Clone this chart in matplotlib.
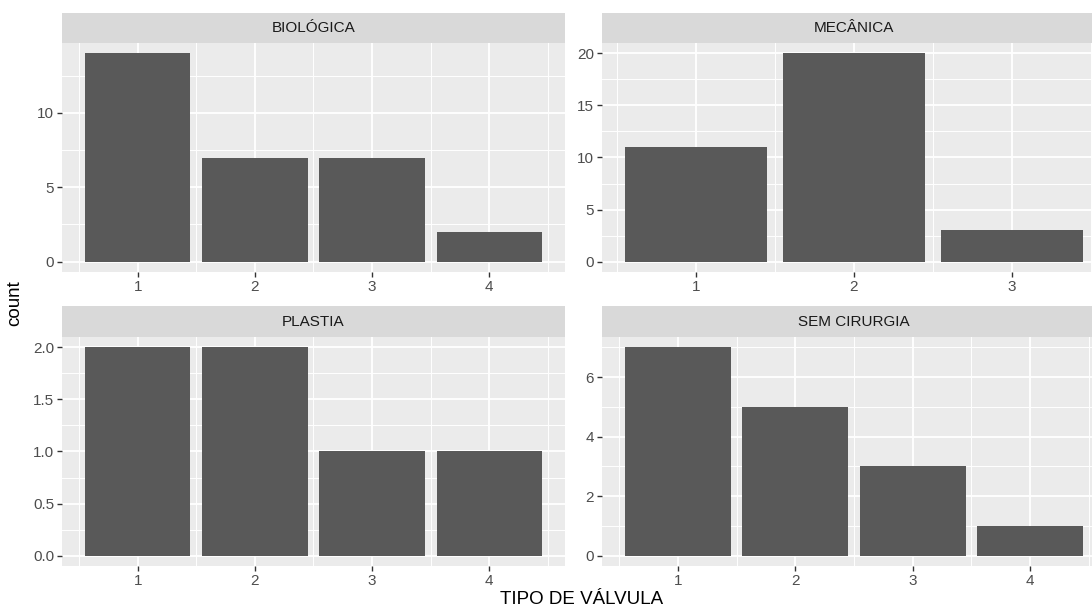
import numpy as np
import matplotlib
matplotlib.use("Agg")
import matplotlib.pyplot as plt
from matplotlib.ticker import FixedLocator

plt.rcParams['font.family'] = ['Liberation Sans', 'DejaVu Sans']

# counts per valve type, one facet per group
facet_names = ["BIOLÓGICA", "MECÂNICA", "PLASTIA", "SEM CIRURGIA"]
biologica_tipo = [1, 2, 3, 4]
biologica_count = [14, 7, 7, 2]
mecanica_tipo = [1, 2, 3]
mecanica_count = [11, 20, 3]
plastia_tipo = [1, 2, 3, 4]
plastia_count = [2, 2, 1, 1]
sem_cirurgia_tipo = [1, 2, 3, 4]
sem_cirurgia_count = [7, 5, 3, 1]

facets = [
    (biologica_tipo, biologica_count, [0, 5, 10]),
    (mecanica_tipo, mecanica_count, [0, 5, 10, 15, 20]),
    (plastia_tipo, plastia_count, [0, 0.5, 1.0, 1.5, 2.0]),
    (sem_cirurgia_tipo, sem_cirurgia_count, [0, 2, 4, 6]),
]
ytick_fmt = [str, str, lambda v: f"{v:.1f}", str]

W, H = 1092, 615
fig = plt.figure(figsize=(W / 100, H / 100), dpi=100)

# panel boxes in pixels: left, right, strip top, panel top, panel bottom
# (the right column runs past the canvas edge)
cols = [(62, 565), (602, 1106)]
rows = [(13, 43, 272), (306, 337, 566)]

bg = "#EBEBEB"
bar_col = "#595959"
tick_col = "#4D4D4D"

for i, (xs, ys, yticks) in enumerate(facets):
    r, c = divmod(i, 2)
    x0, x1 = cols[c]
    st, pt, pb = rows[r]
    ax = fig.add_axes([x0 / W, 1 - pb / H, (x1 - x0) / W, (pb - pt) / H])
    sax = fig.add_axes([x0 / W, 1 - pt / H, (x1 - x0) / W, (pt - st) / H])

    ax.set_facecolor(bg)
    ax.bar(xs, ys, width=0.9, color=bar_col, zorder=3)

    # ggplot-style continuous scale expansion (5%)
    lo, hi = min(xs) - 0.45, max(xs) + 0.45
    pad = (hi - lo) * 0.05
    ax.set_xlim(lo - pad, hi + pad)
    ymax = max(ys)
    ax.set_ylim(-ymax * 0.05, ymax * 1.05)

    ax.xaxis.set_major_locator(FixedLocator(xs))
    ax.set_xticklabels([str(v) for v in xs])
    xminor = [v - 0.5 for v in xs] + [xs[-1] + 0.5]
    ax.xaxis.set_minor_locator(FixedLocator(xminor))

    step = yticks[1] - yticks[0]
    ax.yaxis.set_major_locator(FixedLocator(yticks))
    ax.set_yticklabels([ytick_fmt[i](v) for v in yticks])
    yminor = [v + step / 2 for v in yticks]
    yminor = [v for v in yminor if v < ymax * 1.05]
    ax.yaxis.set_minor_locator(FixedLocator(yminor))

    ax.grid(which="major", color="white", linewidth=1.35, zorder=1)
    ax.grid(which="minor", color="white", linewidth=0.7, zorder=1)
    ax.set_axisbelow(True)
    for s in ax.spines.values():
        s.set_visible(False)
    ax.tick_params(which="major", length=3.6, width=1.0, color="#333333",
                   labelsize=11, labelcolor=tick_col, pad=2)
    ax.tick_params(which="minor", length=0)

    sax.set_facecolor("#D9D9D9")
    sax.set_xticks([])
    sax.set_yticks([])
    for s in sax.spines.values():
        s.set_visible(False)
    sax.text(0.5, 0.5, facet_names[i], ha="center", va="center",
             fontsize=11, color="#1A1A1A", transform=sax.transAxes)

fig.text(582 / W, 1 - 600 / H, "TIPO DE VÁLVULA", ha="center", va="center",
         fontsize=13.5, color="black")
fig.text(15 / W, 1 - 303 / H, "count", ha="center", va="center",
         rotation=90, fontsize=13.5, color="black")

fig.savefig("out.png", dpi=100, facecolor="white")
